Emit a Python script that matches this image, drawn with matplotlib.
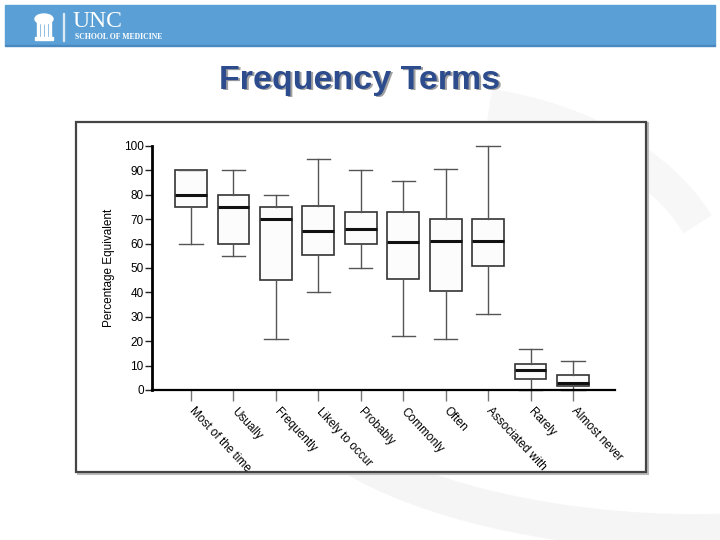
import matplotlib
matplotlib.use("Agg")
import matplotlib.pyplot as plt
from matplotlib.patches import Rectangle, Arc, Ellipse

plt.rcParams['font.family'] = ['Liberation Sans', 'DejaVu Sans']

# values
labels = ["Most of the time", "Usually", "Frequently", "Likely to occur", "Probably",
          "Commonly", "Often", "Associated with", "Rarely", "Almost never"]
whislo = [60, 55, 21, 40, 50, 22, 21, 31, 0, 0]
q1 = [75, 60, 45, 55.5, 60, 45.5, 40.5, 51, 4.5, 1.5]
med = [80, 75, 70, 65, 66, 60.5, 61, 61, 8, 3]
q3 = [90, 80, 75, 75.5, 73, 73, 70, 70, 10.8, 6]
whishi = [90, 90, 80, 94.5, 90, 85.5, 90.5, 100, 17, 12]
yticks = [0, 10, 20, 30, 40, 50, 60, 70, 80, 90, 100]

W, H = 720, 540
fig = plt.figure(figsize=(7.2, 5.4), dpi=100)


def fx(px):
    return px / W


def fy(py):
    return 1 - py / H


# faint background swooshes
fig.patches.append(Arc((fx(640), fy(400)), fx(700), 260 / H, angle=-6, theta1=200, theta2=320,
                       lw=26, color='#f5f5f5', transform=fig.transFigure, zorder=-3))
fig.patches.append(Arc((fx(420), fy(300)), fx(600), 400 / H, angle=0, theta1=20, theta2=75,
                       lw=24, color='#f7f7f7', transform=fig.transFigure, zorder=-3))

# header bar
fig.patches.append(Rectangle((fx(5), fy(45)), fx(710), 40 / H, color='#5a9fd5',
                             transform=fig.transFigure))
fig.patches.append(Rectangle((fx(5), fy(46)), fx(710), 1.5 / H, color='#4a88c0',
                             transform=fig.transFigure))
# old well icon
fig.patches.append(Ellipse((fx(44), fy(19)), fx(18), 10 / H, color='white',
                           transform=fig.transFigure))
fig.patches.append(Rectangle((fx(35), fy(40)), fx(18), 3 / H, color='white',
                             transform=fig.transFigure))
for cx in [37, 41, 45, 49]:
    fig.patches.append(Rectangle((fx(cx), fy(38)), fx(2), 16 / H, color='white',
                                 transform=fig.transFigure))
fig.patches.append(Rectangle((fx(63), fy(41)), fx(1), 28 / H, color='#d8e8f5',
                             transform=fig.transFigure))
fig.text(fx(72), fy(21.5), "UNC", family=['Liberation Serif', 'DejaVu Serif'], fontsize=17,
         color='white', va='center', ha='left')
fig.text(fx(75), fy(37), "SCHOOL OF MEDICINE", family=['Liberation Serif', 'DejaVu Serif'],
         fontsize=5.6, fontweight='bold', color='white', va='center', ha='left')

# title with shadow
fig.text(fx(361.5), fy(81.5), "Frequency Terms", fontsize=24.5, fontweight='bold',
         color='#a0a0a0', ha='center', va='center')
fig.text(fx(360), fy(80), "Frequency Terms", fontsize=24.5, fontweight='bold',
         color='#2c4c8e', ha='center', va='center')

# frame around the chart
fig.patches.append(Rectangle((fx(77.5), fy(473.5)), fx(570), 351 / H, fill=False,
                             ec='#bbbbbb', lw=1.5, transform=fig.transFigure, zorder=-2))
fig.patches.append(Rectangle((fx(76), fy(472)), fx(570), 350 / H, fc='white',
                             ec='#444444', lw=1.6, transform=fig.transFigure, zorder=-2))

ax = fig.add_axes([fx(152), fy(390), fx(615 - 152), (390 - 146) / H])
stats = []
for i in range(len(labels)):
    stats.append(dict(label=labels[i], whislo=whislo[i], q1=q1[i], med=med[i],
                      q3=q3[i], whishi=whishi[i], fliers=[]))
pos = list(range(1, len(labels) + 1))
ax.bxp(stats, positions=pos, widths=0.75, patch_artist=True, showfliers=False,
       boxprops=dict(facecolor='#fcfcfc', edgecolor='#333333', lw=1.2),
       medianprops=dict(color='#111111', lw=2.2),
       whiskerprops=dict(color='#555555', lw=1),
       capprops=dict(color='#555555', lw=1), capwidths=0.55)
for art in ax.get_children():
    try:
        art.set_clip_on(False)
    except Exception:
        pass

ax.set_xlim(0.08, 10.99)
ax.set_ylim(0, 100)
ax.set_yticks(yticks)
ax.set_yticklabels([str(v) for v in yticks])
ax.set_xticks(pos)
ax.set_xticklabels(labels, rotation=-47, ha='left', va='center', rotation_mode='anchor')
ax.tick_params(axis='y', length=5, width=1, color='#222222', labelsize=8.5, pad=1)
ax.tick_params(axis='x', length=8, width=1, color='#777777', labelsize=8.5, pad=6)
for s in ['top', 'right']:
    ax.spines[s].set_visible(False)
ax.spines['left'].set_linewidth(2)
ax.spines['bottom'].set_linewidth(1.6)
ax.patch.set_alpha(0)
ax.set_ylabel("Percentage Equivalent", fontsize=8.5, labelpad=6)

fig.savefig("out.png", dpi=100)
